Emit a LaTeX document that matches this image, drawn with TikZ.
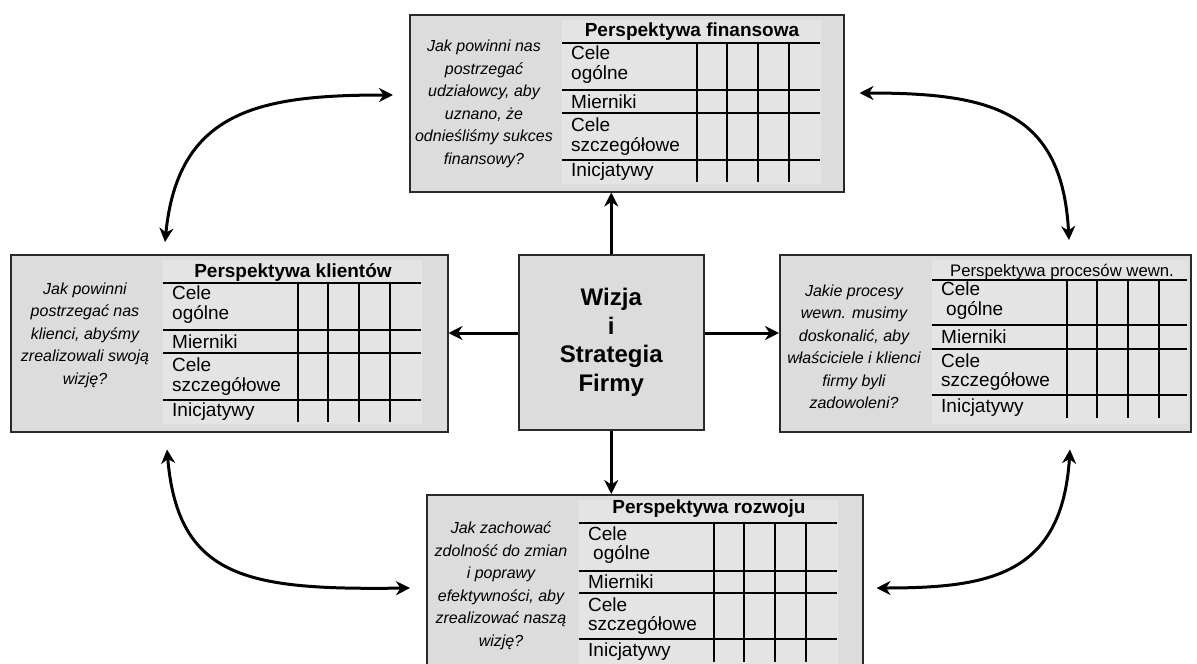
\documentclass[tikz,border=0pt]{standalone}
\usepackage{fontspec}
\setmainfont{Liberation Sans}
\usetikzlibrary{arrows.meta,calc}
\definecolor{boxgray}{HTML}{DCDCDC}
\definecolor{innergray}{HTML}{E4E4E4}
\definecolor{edgecol}{HTML}{2A2A2A}
\newcommand{\rowfont}{\fontsize{19}{19.5}\selectfont}
\newcommand{\qfont}{\fontsize{16}{22.5}\selectfont\itshape}
\newcommand{\tfont}{\fontsize{19}{22}\selectfont\bfseries}
\newcommand{\tfontreg}{\fontsize{16.7}{20}\selectfont}
\newcommand{\cfont}{\fontsize{24}{28.5}\selectfont\bfseries}
% #1 name, #2 x, #3 y, #4 width, #5 title, #6 question, #7 question y, #8 prefix
\newcommand{\bscbox}[8]{%
  \node[outerbox, minimum width=#4, minimum height=177, anchor=north west] (#1) at (#2,#3) {};
  \begin{scope}[shift={(#2,#3)}]
    \fill[innergray] (153,6) rectangle ({min(#4-2,412)},170);
    \node[inner sep=0] (#1-title) at (283,\tya) {#5};
    \foreach \yy in {\la,\lb,\lc,\ld} \draw[grid] (153,\yy) -- ({min(#4-3,411)},\yy);
    \foreach \xx in {288,318,349,380} \draw[grid] (\xx,\la) -- (\xx,\le);
    \node[rowtext] (#1-r1) at (162,{(\la+\lb)/2-2}) {Cele\\#8ogólne};
    \node[rowtext] (#1-r2) at (162,{(\lb+\lc)/2}) {Mierniki};
    \node[rowtext] (#1-r3) at (162,{(\lc+\ld)/2}) {Cele\\szczegółowe};
    \node[rowtext] (#1-r4) at (162,{(\ld+\le)/2+1}) {Inicjatywy};
    \node[qtext] (#1-q) at (75,#7) {#6};
  \end{scope}}
\begin{document}
\begin{tikzpicture}[x=1pt,y=-1pt,
  outerbox/.style={draw=edgecol, line width=1.5pt, fill=boxgray, rectangle, inner sep=0pt},
  grid/.style={line width=1.5pt, black},
  rowtext/.style={font=\rowfont, inner sep=0pt, anchor=west, align=left},
  qtext/.style={font=\qfont, align=center, inner sep=0pt},
  arr/.style={line width=3pt, -{Stealth[length=14pt,width=14pt,inset=4.5pt]}},
  dblarr/.style={line width=3pt, {Stealth[length=14pt,width=14pt,inset=4.5pt]}-{Stealth[length=14pt,width=14pt,inset=4.5pt]}}]
\useasboundingbox (0,0) rectangle (1197,664);
\clip (0,0) rectangle (1197,664);
\fill[white] (0,0) rectangle (1197,664);

% financial (top)
\def\tya{18}\def\la{29}\def\lb{76}\def\lc{99}\def\ld{146}\def\le{168}
\bscbox{fin}{409}{14}{434}{\tfont Perspektywa finansowa}%
  {Jak powinni nas\\postrzegać\\udziałowcy, aby\\uznano, że\\odnieśliśmy sukces\\finansowy?}{90}{}

% clients (left)
\bscbox{cli}{10}{254}{437}{\tfont Perspektywa klientów}%
  {Jak powinni\\postrzegać nas\\klienci, abyśmy\\zrealizowali swoją\\wizję?}{81}{}

% processes (right)
\def\tya{18}\def\la{26}\def\lb{71}\def\lc{95}\def\ld{141}\def\le{164}
\bscbox{proc}{779}{254}{411}{\tfontreg Perspektywa procesów wewn.}%
  {Jakie procesy\\wewn. musimy\\doskonalić, aby\\właściciele i klienci\\firmy byli\\zadowoleni?}{93}{\hspace*{5pt}}

% development (bottom)
\def\tya{15}\def\la{29}\def\lb{77}\def\lc{99}\def\ld{145}\def\le{168}
\bscbox{dev}{426}{494}{436}{\tfont Perspektywa rozwoju}%
  {Jak zachować\\zdolność do zmian\\i poprawy\\efektywności, aby\\zrealizować naszą\\wizję?}{92}{\hspace*{5pt}}

% center
\node[outerbox, minimum width=185, minimum height=175, anchor=north west,
      font=\cfont, align=center] (center) at (518,254) {Wizja\\i\\Strategia\\Firmy};

% straight arrows
\coordinate (ylev) at (0,333);
\draw[arr] (center.north) -- (center.north |- fin.south);
\draw[arr] (center.south) -- (center.south |- dev.north);
\draw[arr] (center.west |- ylev) -- (cli.east |- ylev);
\draw[arr] (center.east |- ylev) -- (proc.west |- ylev);

% curved arrows
\draw[dblarr] ($(cli.north west)+(155,-12)$) .. controls (178,110) and (260,95) .. ($(fin.north west)+(-16,81)$);
\draw[dblarr] ($(fin.north east)+(15,79)$) .. controls (990,93) and (1062,110) .. ($(proc.north west)+(290,-14)$);
\draw[dblarr] ($(cli.south west)+(157,17)$) .. controls (178,580) and (250,590) .. ($(dev.north west)+(-16,94)$);
\draw[dblarr] ($(proc.south west)+(291,17)$) .. controls (1062,575) and (990,588) .. ($(dev.north east)+(13,94)$);
\end{tikzpicture}
\end{document}
